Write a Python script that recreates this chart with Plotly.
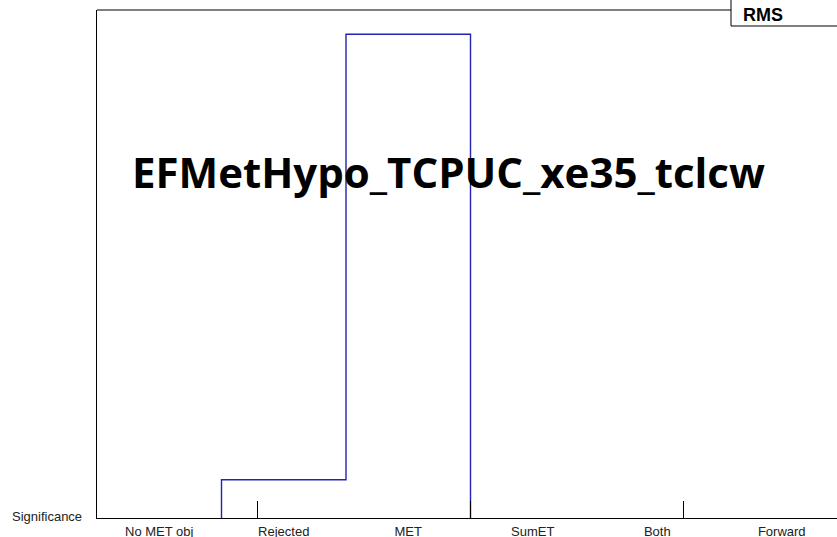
import plotly.graph_objects as go

# ---- data ----
categories = ["No MET obj", "Rejected", "MET", "SumET", "Both", "Forward"]
counts = [0, 79, 1000, 0, 0, 0]
tick_marks = [1.293, 3.0, 4.707]
title_text = "EFMetHypo_TCPUC_xe35_tclcw"
axis_title = "Significance"
stats_label = "RMS"

# ---- layout geometry ----
W, H = 837, 537
L, T, R = 97, 10, 0
B = H - 518
PW, PH = W - L - R, H - T - B
bin_w_px = 124.5
xmax = PW / bin_w_px
ymax = 1.05 * max(counts)

def px_x(p):  # screen px -> paper
    return (p - L) / PW

def px_y(p):
    return (H - B - p) / PH

# step outline built from the bins
nz = [i for i, c in enumerate(counts) if c > 0]
i0, i1 = nz[0], nz[-1]
xs, ys = [i0], [0]
for i in range(i0, i1 + 1):
    xs += [i, i + 1]
    ys += [counts[i], counts[i]]
xs.append(i1 + 1)
ys.append(0)

fig = go.Figure()
fig.add_trace(go.Scatter(x=xs, y=ys, mode="lines",
                         line=dict(color="#2222b4", width=1.4),
                         hoverinfo="skip", showlegend=False))
fig.add_trace(go.Scatter(x=tick_marks, y=[0] * len(tick_marks), xaxis="x2",
                         mode="markers", marker=dict(opacity=0),
                         hoverinfo="skip", showlegend=False))

tickfont = dict(family="Liberation Sans", size=13, color="#222222")

fig.update_layout(
    template="none",
    width=W, height=H,
    margin=dict(l=L, r=R, t=T, b=B, pad=0, autoexpand=False),
    paper_bgcolor="white", plot_bgcolor="white",
    xaxis=dict(range=[0, xmax], tickvals=[i + 0.5 for i in range(len(categories))],
               ticktext=categories, ticks="", showline=True, linecolor="black",
               linewidth=1, showgrid=False, zeroline=False, layer="above traces",
               tickfont=tickfont, ticklabelstandoff=1, automargin=False),
    xaxis2=dict(range=[0, xmax], overlaying="x", anchor="y", side="bottom",
                tickvals=tick_marks, ticks="inside", ticklen=17, tickwidth=1,
                tickcolor="black", showticklabels=False, showline=False,
                showgrid=False, zeroline=False, layer="above traces",
                automargin=False),
    yaxis=dict(range=[0, ymax], showticklabels=False, ticks="", showline=True,
               linecolor="black", linewidth=1, showgrid=False, zeroline=False,
               automargin=False),
    shapes=[
        dict(type="line", xref="paper", yref="paper", x0=0, x1=px_x(731),
             y0=1, y1=1, line=dict(color="black", width=1)),
        dict(type="rect", xref="paper", yref="paper", x0=px_x(731), x1=px_x(900),
             y0=px_y(26), y1=px_y(-20), fillcolor="white",
             line=dict(color="black", width=1), layer="above"),
    ],
    annotations=[
        dict(text=axis_title, xref="paper", yref="paper", x=px_x(84), y=px_y(516),
             xanchor="right", yanchor="middle", showarrow=False, font=tickfont),
        dict(text="<b>%s</b>" % stats_label, xref="paper", yref="paper",
             x=px_x(741), y=px_y(15), xanchor="left", yanchor="middle",
             showarrow=False, font=dict(family="Liberation Sans", size=18, color="black")),
        dict(text="<b>%s</b>" % title_text, xref="paper", yref="paper",
             x=px_x(448), y=px_y(171), xanchor="center", yanchor="middle",
             showarrow=False, font=dict(family="Open Sans", size=42, color="black")),
    ],
)

fig.write_html("out.html", config={"displayModeBar": False},
               post_script="document.body.style.margin='0';"
                           "document.body.style.overflow='hidden';")
